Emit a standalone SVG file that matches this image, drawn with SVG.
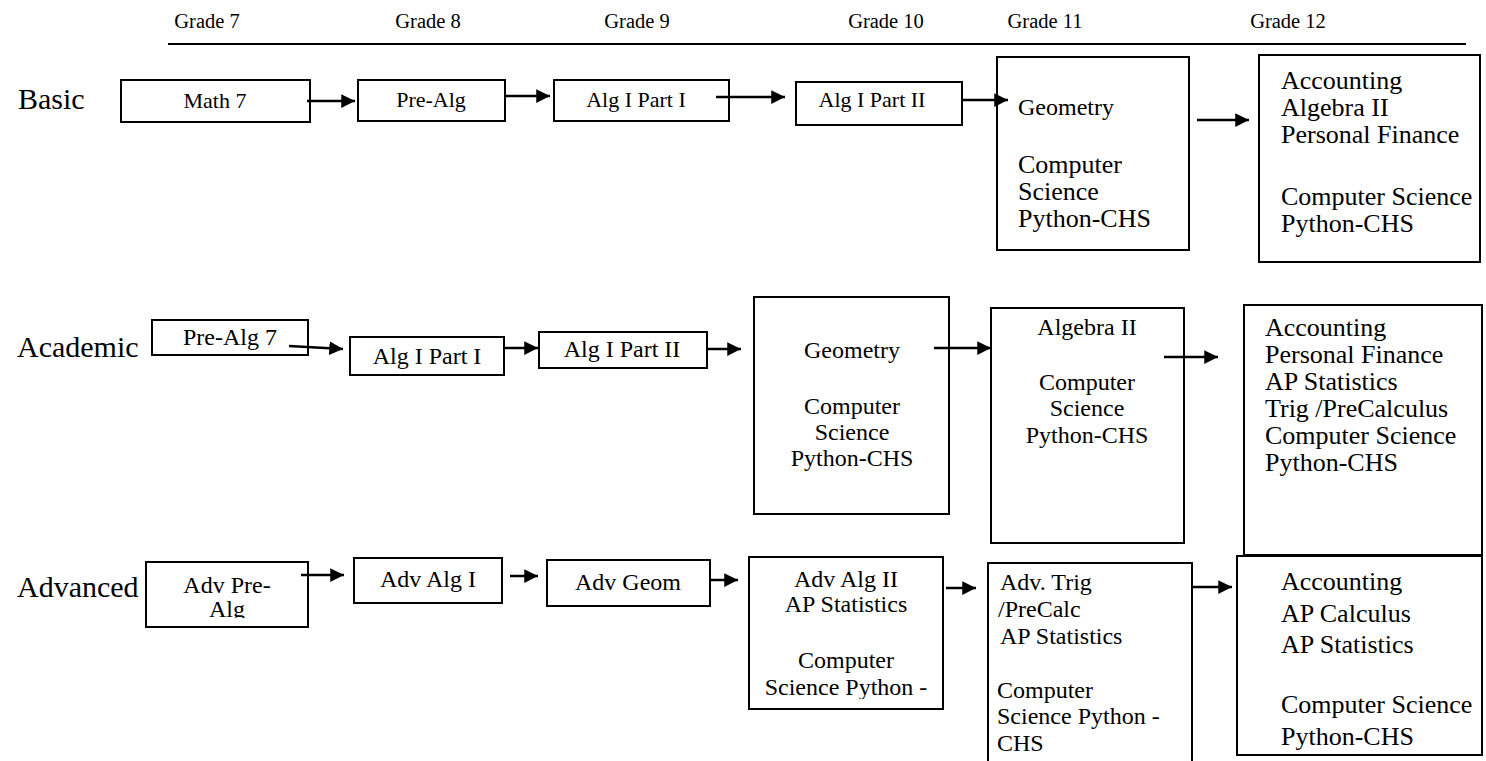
<svg xmlns="http://www.w3.org/2000/svg" width="1486" height="761" viewBox="0 0 1486 761">
<style>
text{font-family:"Liberation Serif","Times New Roman",serif;fill:#000}
.g{font-size:20.5px}
.lbl{font-size:30px}
.s{font-size:22px}
.m{font-size:24px}
.b{font-size:26px}
.c{text-anchor:middle}
rect{fill:#fff;stroke:#000;stroke-width:2}
.cn line{stroke:#000;stroke-width:2.5}
</style>
<defs>
<marker id="ah" viewBox="0 0 10 10" refX="10" refY="5" markerWidth="5.5" markerHeight="5.5" markerUnits="strokeWidth" orient="auto"><path d="M0,0L10,5L0,10z" fill="#000"/></marker>
<clipPath id="cp1"><rect x="146" y="560" width="162" height="58"/></clipPath>
<clipPath id="cp2"><rect x="749" y="557" width="194" height="142"/></clipPath>
<clipPath id="cp3"><rect x="988" y="563" width="204" height="192"/></clipPath>
</defs>
<g id="header">
<text class="g c" x="207" y="28">Grade 7</text>
<text class="g c" x="428" y="28">Grade 8</text>
<text class="g c" x="637" y="28">Grade 9</text>
<text class="g c" x="886" y="28">Grade 10</text>
<text class="g c" x="1045" y="28">Grade 11</text>
<text class="g c" x="1288" y="28">Grade 12</text>
<line x1="168" y1="44" x2="1466" y2="44" stroke="#000" stroke-width="2"/>
</g>
<g id="labels">
<text class="lbl" x="18" y="109">Basic</text>
<text class="lbl" x="17" y="357">Academic</text>
<text class="lbl" x="17" y="597">Advanced</text>
</g>
<g id="basic-math7"><rect x="121" y="80" width="189" height="42"/><text class="s c" x="215" y="108">Math 7</text></g>
<g id="basic-prealg"><rect x="358" y="80" width="147" height="41"/><text class="s c" x="431" y="107">Pre-Alg</text></g>
<g id="basic-alg1p1"><rect x="554" y="80" width="175" height="41"/><text class="s c" x="636" y="107">Alg I Part I</text></g>
<g id="basic-alg1p2"><rect x="796" y="82" width="166" height="43"/><text class="s c" x="872" y="107">Alg I Part II</text></g>
<g id="basic-g11"><rect x="997" y="57" width="192" height="193"/>
<text class="m" x="1018" y="115">Geometry</text>
<text class="b" x="1018" y="173">Computer</text>
<text class="b" x="1018" y="200">Science</text>
<text class="b" x="1018" y="227">Python-CHS</text></g>
<g id="basic-g12"><rect x="1259" y="55" width="221" height="207"/>
<text class="b" x="1281" y="89">Accounting</text>
<text class="b" x="1281" y="116">Algebra II</text>
<text class="b" x="1281" y="143">Personal Finance</text>
<text class="b" x="1281" y="205">Computer Science</text>
<text class="b" x="1281" y="232">Python-CHS</text></g>
<g id="acad-prealg7"><rect x="152" y="320" width="156" height="35"/><text class="m c" x="230" y="345">Pre-Alg 7</text></g>
<g id="acad-alg1p1"><rect x="350" y="337" width="154" height="38"/><text class="m c" x="427" y="364">Alg I Part I</text></g>
<g id="acad-alg1p2"><rect x="539" y="332" width="168" height="36"/><text class="m c" x="622" y="357">Alg I Part II</text></g>
<g id="acad-g10"><rect x="754" y="297" width="195" height="217"/>
<text class="m c" x="852" y="358">Geometry</text>
<text class="m c" x="852" y="414">Computer</text>
<text class="m c" x="852" y="440">Science</text>
<text class="m c" x="852" y="466">Python-CHS</text></g>
<g id="acad-g11"><rect x="991" y="308" width="193" height="235"/>
<text class="m c" x="1087" y="335">Algebra II</text>
<text class="m c" x="1087" y="390">Computer</text>
<text class="m c" x="1087" y="416">Science</text>
<text class="m c" x="1087" y="443">Python-CHS</text></g>
<g id="acad-g12"><rect x="1244" y="305" width="238" height="250"/>
<text class="b" x="1265" y="336">Accounting</text>
<text class="b" x="1265" y="363">Personal Finance</text>
<text class="b" x="1265" y="390">AP Statistics</text>
<text class="b" x="1265" y="417">Trig /PreCalculus</text>
<text class="b" x="1265" y="444">Computer Science</text>
<text class="b" x="1265" y="471">Python-CHS</text></g>
<g id="adv-prealg"><rect x="146" y="562" width="162" height="65"/>
<g clip-path="url(#cp1)"><text class="m c" x="227" y="593">Adv Pre-</text><text class="m c" x="227" y="617">Alg</text></g></g>
<g id="adv-alg1"><rect x="354" y="558" width="148" height="45"/><text class="m c" x="428" y="587">Adv Alg I</text></g>
<g id="adv-geom"><rect x="547" y="560" width="163" height="46"/><text class="m c" x="628" y="590">Adv Geom</text></g>
<g id="adv-g10"><rect x="749" y="557" width="194" height="152"/>
<g clip-path="url(#cp2)"><text class="m c" x="846" y="587">Adv Alg II</text>
<text class="m c" x="846" y="612">AP Statistics</text>
<text class="m c" x="846" y="668">Computer</text>
<text class="m c" x="846" y="695">Science Python -</text></g></g>
<g id="adv-g11"><path d="M988,763V563H1192V763" fill="#fff" stroke="#000" stroke-width="2"/>
<g clip-path="url(#cp3)"><text class="m" x="1000" y="590">Adv. Trig</text>
<text class="m" x="998" y="617">/PreCalc</text>
<text class="m" x="1000" y="644">AP Statistics</text>
<text class="m" x="997" y="698">Computer</text>
<text class="m" x="997" y="724">Science Python -</text>
<text class="m" x="997" y="751">CHS</text></g></g>
<g id="adv-g12"><rect x="1237" y="556" width="245" height="199"/>
<text class="b" x="1281" y="590">Accounting</text>
<text class="b" x="1281" y="622">AP Calculus</text>
<text class="b" x="1281" y="653">AP Statistics</text>
<text class="b" x="1281" y="713">Computer Science</text>
<text class="b" x="1281" y="745">Python-CHS</text></g>
<g class="cn" id="connectors">
<line x1="307" y1="101" x2="355" y2="101" marker-end="url(#ah)"/>
<line x1="505" y1="96" x2="550" y2="96" marker-end="url(#ah)"/>
<line x1="716" y1="97" x2="785" y2="97" marker-end="url(#ah)"/>
<line x1="962" y1="100" x2="1008" y2="100" marker-end="url(#ah)"/>
<line x1="1197" y1="120" x2="1249" y2="120" marker-end="url(#ah)"/>
<line x1="289" y1="346" x2="343" y2="349" marker-end="url(#ah)"/>
<line x1="504" y1="348" x2="538" y2="348" marker-end="url(#ah)"/>
<line x1="707" y1="349" x2="741" y2="349" marker-end="url(#ah)"/>
<line x1="934" y1="348" x2="991" y2="348" marker-end="url(#ah)"/>
<line x1="1164" y1="357" x2="1218" y2="357" marker-end="url(#ah)"/>
<line x1="301" y1="575" x2="344" y2="575" marker-end="url(#ah)"/>
<line x1="510" y1="576" x2="538" y2="576" marker-end="url(#ah)"/>
<line x1="710" y1="580" x2="738" y2="580" marker-end="url(#ah)"/>
<line x1="946" y1="588" x2="976" y2="588" marker-end="url(#ah)"/>
<line x1="1192" y1="587" x2="1232" y2="587" marker-end="url(#ah)"/>
</g>
</svg>
